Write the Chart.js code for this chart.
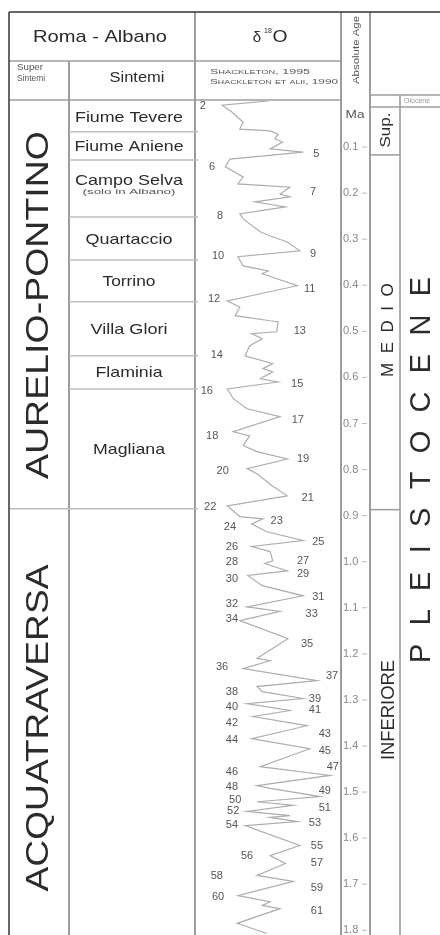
<!DOCTYPE html>
<html>
<head>
<meta charset="utf-8">
<script src="https://cdn.jsdelivr.net/npm/chart.js@4"></script>
<style>
  html, body { margin: 0; padding: 0; background: #fff; overflow: hidden; }
  canvas { display: block; }
</style>
</head>
<body>
<canvas id="myChart" width="440" height="950"></canvas>
<script>
// d18O curve (Shackleton) - age in Ma, d18O in permil
var curveAge = [0.000, 0.009, 0.024, 0.046, 0.061, 0.065, 0.072, 0.082, 0.089, 0.104, 0.111, 0.126, 0.143, 0.165, 0.180,
  0.187, 0.202, 0.208, 0.219, 0.230, 0.245, 0.256, 0.284, 0.293, 0.306, 0.325, 0.338, 0.358, 0.369, 0.375, 0.401,
  0.434, 0.447, 0.466, 0.477, 0.479, 0.501, 0.505, 0.516, 0.531, 0.553, 0.570, 0.581, 0.588, 0.603, 0.610, 0.625,
  0.646, 0.668, 0.685, 0.718, 0.727, 0.748, 0.761, 0.777, 0.798, 0.809, 0.835, 0.857, 0.879, 0.902, 0.907, 0.918,
  0.935, 0.954, 0.967, 0.978, 0.998, 1.004, 1.020, 1.030, 1.052, 1.074, 1.098, 1.108, 1.128, 1.167, 1.210, 1.215,
  1.232, 1.258, 1.271, 1.282, 1.297, 1.308, 1.323, 1.336, 1.356, 1.384, 1.406, 1.445, 1.464, 1.486, 1.492, 1.510,
  1.521, 1.529, 1.542, 1.551, 1.555, 1.564, 1.573, 1.616, 1.638, 1.655, 1.681, 1.694, 1.725, 1.738, 1.746, 1.753,
  1.785, 1.807];
var curveD18O = [4.09, 4.79, 4.64, 4.47, 4.52, 4.06, 3.94, 3.99, 3.87, 4.06, 3.56, 4.67, 4.74, 4.47, 4.55,
  3.76, 3.91, 3.76, 4.29, 3.83, 4.52, 4.47, 4.21, 4.06, 3.80, 3.61, 4.55, 4.47, 4.09, 4.18, 3.65,
  4.71, 4.52, 4.59, 4.06, 3.94, 3.96, 4.34, 4.18, 4.37, 4.44, 4.02, 4.17, 4.02, 4.21, 3.94, 4.71,
  4.62, 4.41, 3.91, 4.62, 4.37, 4.47, 4.26, 3.80, 4.41, 4.26, 4.03, 3.80, 4.71, 4.52, 4.17, 4.34,
  4.11, 3.56, 4.34, 4.06, 4.02, 4.14, 3.80, 4.40, 4.18, 3.56, 4.41, 3.91, 4.52, 3.79, 4.26, 4.06,
  4.47, 3.35, 4.26, 4.18, 3.56, 4.41, 3.76, 4.32, 3.50, 4.34, 3.46, 4.21, 3.15, 4.26, 4.06, 3.30,
  4.26, 3.71, 4.41, 3.76, 4.06, 3.65, 4.44, 3.61, 4.06, 3.83, 4.26, 3.71, 4.55, 4.06, 4.18, 3.91,
  4.56, 4.11];

// isotope stage labels
var stageNo = [2, 5, 6, 7, 8, 9, 10, 11, 12, 13, 14, 15, 16, 17, 18, 19, 20, 21, 22, 23, 24, 25, 26, 27, 28, 29, 30,
  31, 32, 33, 34, 35, 36, 37, 38, 39, 40, 41, 42, 43, 44, 45, 46, 47, 48, 49, 50, 51, 52, 53, 54, 55, 56, 57, 58, 59, 60, 61];
var stageAge = [0.011, 0.115, 0.143, 0.197, 0.249, 0.332, 0.336, 0.408, 0.430, 0.499, 0.551, 0.614, 0.629, 0.692,
  0.727, 0.777, 0.803, 0.861, 0.881, 0.911, 0.924, 0.957, 0.967, 0.998, 1.000, 1.026, 1.037, 1.076, 1.091, 1.113,
  1.124, 1.178, 1.228, 1.249, 1.282, 1.297, 1.315, 1.321, 1.351, 1.373, 1.388, 1.410, 1.456, 1.445, 1.490, 1.497,
  1.518, 1.534, 1.542, 1.568, 1.571, 1.618, 1.638, 1.655, 1.683, 1.709, 1.727, 1.759];
var stageD18O = [5.08, 3.36, 4.94, 3.41, 4.82, 3.41, 4.85, 3.46, 4.91, 3.61, 4.87, 3.65, 5.02, 3.64, 4.94, 3.56,
  4.78, 3.49, 4.97, 3.96, 4.67, 3.33, 4.64, 3.56, 4.64, 3.56, 4.64, 3.33, 4.64, 3.43, 4.64, 3.50, 4.79, 3.12,
  4.64, 3.38, 4.64, 3.38, 4.64, 3.23, 4.64, 3.23, 4.64, 3.11, 4.64, 3.23, 4.59, 3.23, 4.62, 3.38, 4.64, 3.35,
  4.41, 3.35, 4.87, 3.35, 4.85, 3.35];

var ageTicks = [0.1, 0.2, 0.3, 0.4, 0.5, 0.6, 0.7, 0.8, 0.9, 1.0, 1.1, 1.2, 1.3, 1.4, 1.5, 1.6, 1.7, 1.8];

// table columns
var sintemi = ['Fiume Tevere', 'Fiume Aniene', 'Campo Selva', 'Quartaccio', 'Torrino', 'Villa Glori', 'Flaminia', 'Magliana'];
var sintemiBounds = [0, 0.067, 0.128, 0.252, 0.345, 0.436, 0.553, 0.625, 0.885];
var superSintemi = ['AURELIO-PONTINO', 'ACQUATRAVERSA'];
var superBounds = [0, 0.885, 1.822];
var subEpoch = ['', 'Sup.', 'MEDIO', 'INFERIORE'];
var subBounds = [-0.013, 0.013, 0.117, 0.887, 1.822];

// drawn width of each sintema name (the lettering is a wide face)
var sintemiWidth = [108, 109, 108, 87, 53, 77, 67, 72];

var FONT = '"Liberation Sans", Arial, sans-serif';

function line(ctx, x1, y1, x2, y2, col, w) {
  ctx.beginPath();
  ctx.strokeStyle = col;
  ctx.lineWidth = w;
  ctx.moveTo(x1, y1);
  ctx.lineTo(x2, y2);
  ctx.stroke();
}

// text centred on (x,y); w = width to stretch to, rot = vertical
function txt(ctx, s, x, y, size, col, w, rot, extra) {
  ctx.save();
  ctx.font = (extra || '') + size + 'px ' + FONT;
  ctx.fillStyle = col;
  ctx.textAlign = 'center';
  ctx.textBaseline = 'middle';
  ctx.translate(x, y);
  if (rot) ctx.rotate(-Math.PI / 2);
  if (w) ctx.scale(w / ctx.measureText(s).width, 1);
  ctx.fillText(s, 0, 0);
  ctx.restore();
}

// vertical spaced letters, reading bottom to top from y0
function spaced(ctx, s, x, y0, size, col, gap) {
  ctx.save();
  ctx.font = size + 'px ' + FONT;
  ctx.fillStyle = col;
  ctx.textAlign = 'left';
  ctx.textBaseline = 'middle';
  ctx.translate(x, y0);
  ctx.rotate(-Math.PI / 2);
  var pos = 0;
  for (var i = 0; i < s.length; i++) {
    ctx.fillText(s[i], pos, 0);
    pos += ctx.measureText(s[i]).width + gap;
  }
  ctx.restore();
}

var tabella = {
  id: 'tabella',
  beforeDraw: function (chart) {
    var ctx = chart.ctx, a = chart.chartArea, y = chart.scales.y;
    var H = chart.height;
    ctx.save();
    ctx.fillStyle = '#fff';
    ctx.fillRect(0, 0, chart.width, H);
    var g = '#9c9c9c', lg = '#bdbdbd';
    // column lines
    line(ctx, 69, 61, 69, H, g, 2);
    line(ctx, a.left, 12, a.left, H, g, 2);
    line(ctx, a.right + 1, 12, a.right + 1, H, g, 2);
    line(ctx, 370, 12, 370, H, g, 2);
    line(ctx, 400, 95, 400, H, g, 1.6);
    // header rows
    line(ctx, 9, 61, a.right, 61, g, 1.5);
    line(ctx, 9, 100, a.right, 100, g, 1.5);
    // sintemi rows
    for (var i = 1; i < sintemiBounds.length - 1; i++) {
      var yy = y.getPixelForValue(sintemiBounds[i]);
      line(ctx, 69, yy, a.left + 3, yy, lg, 1.5);
    }
    var ys = y.getPixelForValue(superBounds[1]);
    line(ctx, 9, ys, a.left + 3, ys, lg, 1.5);
    // sub-epoch rows
    line(ctx, 370, y.getPixelForValue(subBounds[0]), 440, y.getPixelForValue(subBounds[0]), g, 1.5);
    line(ctx, 370, y.getPixelForValue(subBounds[1]), 440, y.getPixelForValue(subBounds[1]), g, 1.5);
    for (var j = 2; j < subBounds.length - 1; j++) {
      var yb = y.getPixelForValue(subBounds[j]);
      line(ctx, 370, yb, 400, yb, g, 1.5);
    }
    // outer border
    line(ctx, 9, 12, 9, H, '#333', 1.5);
    line(ctx, 9, 12, 440, 12, '#333', 1.5);
    ctx.restore();
  },
  afterDatasetsDraw: function (chart) {
    var ctx = chart.ctx, x = chart.scales.x, y = chart.scales.y;
    for (var i = 0; i < stageNo.length; i++) {
      txt(ctx, String(stageNo[i]), x.getPixelForValue(stageD18O[i]), y.getPixelForValue(stageAge[i]), 11, '#555');
    }
  },
  afterDraw: function (chart) {
    var ctx = chart.ctx, y = chart.scales.y;
    var dark = '#2b2b2b';
    // header
    txt(ctx, 'Roma - Albano', 100, 37, 17, dark, 134);
    txt(ctx, '\u03b4', 257, 38, 15, dark);
    txt(ctx, '18', 268, 31, 7, dark);
    txt(ctx, 'O', 280, 37, 17, dark, 15);
    txt(ctx, 'Super', 30, 68, 9, '#555', 26);
    txt(ctx, 'Sintemi', 31, 79, 9, '#555', 28);
    txt(ctx, 'Sintemi', 137, 78, 14, dark, 55);
    txt(ctx, 'Shackleton, 1995', 260, 72, 8, '#555', 100, false, 'small-caps ');
    txt(ctx, 'Shackleton et alii, 1990', 274, 82, 8, '#555', 128, false, 'small-caps ');
    txt(ctx, 'Absolute Age', 357, 50, 9, '#555', 68, true);
    txt(ctx, 'Ma', 355, 115, 11, '#555', 19);
    // sintemi names
    for (var i = 0; i < sintemi.length; i++) {
      var cy = (y.getPixelForValue(sintemiBounds[i]) + y.getPixelForValue(sintemiBounds[i + 1])) / 2;
      if (sintemi[i] === 'Campo Selva') {
        txt(ctx, sintemi[i], 129, cy - 8, 15, dark, sintemiWidth[i]);
        txt(ctx, '(solo in Albano)', 129, cy + 3, 8, '#555', 93);
      } else {
        txt(ctx, sintemi[i], 129, cy + 1, 15, dark, sintemiWidth[i]);
      }
    }
    // super sintemi, vertical
    txt(ctx, superSintemi[0], 39, 305, 32, dark, 348, true);
    txt(ctx, superSintemi[1], 39, 728, 32, dark, 327, true);
    // sub epochs
    txt(ctx, subEpoch[1], 386, 130, 15, dark, 35, true);
    spaced(ctx, subEpoch[2], 388, 377, 17, dark, 9.5);
    txt(ctx, subEpoch[3], 389, 710, 18, dark, 100, true);
    // epoch
    ctx.save();
    ctx.font = '7px ' + FONT;
    ctx.fillStyle = '#999';
    ctx.textBaseline = 'middle';
    ctx.fillText('Olocene', 404, 101);
    ctx.restore();
    spaced(ctx, 'PLEISTOCENE', 422, 663, 29, dark, 18.3);
    // small tick dashes of the age axis
    ageTicks.forEach(function (v) {
      var yy = y.getPixelForValue(v);
      line(ctx, 362, yy, 367, yy, '#bbb', 1);
    });
  }
};

var ctx = document.getElementById('myChart');
var myChart = new Chart(ctx, {
  type: 'scatter',
  data: {
    datasets: [{
      data: curveAge.map(function (a, i) { return { x: curveD18O[i], y: a }; }),
      showLine: true,
      borderColor: '#adadad',
      borderWidth: 1.2,
      pointRadius: 0,
      tension: 0
    }]
  },
  options: {
    responsive: false,
    animation: false,
    layout: { padding: { left: 195, top: 101, right: 70, bottom: 9 } },
    plugins: { legend: { display: false }, tooltip: { enabled: false } },
    scales: {
      x: { type: 'linear', display: false, reverse: true, min: 3.0, max: 5.2 },
      y: {
        type: 'linear', position: 'right', reverse: true, min: 0, max: 1.822,
        grid: { display: false, drawTicks: false, tickLength: 0 },
        border: { display: false },
        afterBuildTicks: function (s) { s.ticks = ageTicks.map(function (v) { return { value: v }; }); },
        afterFit: function (s) { s.width = 30; },
        ticks: {
          padding: 3, autoSkip: false, color: '#888',
          font: { family: FONT, size: 11 },
          callback: function (v) { return v.toFixed(1); }
        }
      }
    }
  },
  plugins: [tabella]
});
</script>
</body>
</html>
